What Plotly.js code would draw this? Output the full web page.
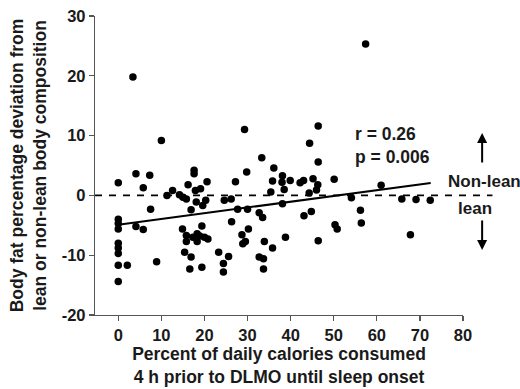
<!DOCTYPE html>
<html>
<head>
<meta charset="utf-8">
<script src="https://cdn.plot.ly/plotly-3.0.1.min.js"></script>
<style>html,body{margin:0;padding:0;background:#fff;}#chart{width:520px;height:389px;}</style>
</head>
<body>
<div id="chart"></div>
<script>
// Scatter data: percent of calories (x) vs body fat deviation (y)
const xVals = [
  0, 4.1, 7.3, 5.8, 7.5, 0, 0, 0, 4.1, 5.8, 0, 0, 0, 0, 2.1, 8.9, 0, 3.4, 10,
  17.6, 17.6, 16.2, 20.6, 17.9, 19.1, 12.6, 11.3, 14.2, 15.0, 15.8, 18.1, 20.3, 19.6, 16.9,
  14.9, 19.4, 15.8, 15.8, 17.3, 18.3, 18.9, 18.3, 20.0, 20.8, 15.4, 16.9, 16.6, 19.4,
  23.3, 25.6, 24.4, 24.4, 24.6, 26.2, 27.2, 29.8, 29.3, 27.7, 30.0, 26.3, 30.2, 28.7, 29.5, 28.9,
  33.3, 36.1, 35.8, 35.4, 32.7, 33.5, 33.9, 32.7, 33.7, 33.7, 35.8,
  38.1, 38.0, 39.9, 38.5, 38.1, 42.2, 43.0, 45.2, 46.4, 46.4, 44.4, 46.3, 46.0, 44.3, 43.1, 44.8, 38.8, 46.4, 50.1,
  50.3, 50.8, 54.1, 56.2, 56.4, 57.4, 61.0, 65.8, 69.1, 72.4, 67.8
];
const yVals = [
  2.1, 3.6, 3.35, 1.3, -2.3, -4.0, -4.7, -5.6, -5.2, -5.7, -8.0, -8.8, -9.7, -11.7, -11.7, -11.1, -14.4, 19.8, 9.2,
  4.2, 3.6, 1.8, 2.3, 0.8, 1.1, 0.8, 0, 0.1, -0.3, -0.6, -1.1, -0.8, -1.7, -2.4,
  -5.6, -5.1, -6.7, -7.7, -7.0, -6.4, -6.8, -7.7, -7.0, -7.3, -9.5, -10.3, -12.3, -12.0,
  -9.5, -10.2, -11.4, -12.8, -0.8, -0.6, 2.3, 3.9, 11.0, -2.3, -2.3, -4.4, -5.6, -6.6, -7.7, -8.1,
  6.3, 4.6, 2.4, 0.55, -2.9, -3.7, -7.7, -10.3, -10.6, -12.3, -8.8,
  3.3, 2.2, 2.5, 1.0, -1.4, 2.1, 2.5, 2.8, 5.6, 11.6, 8.7, 1.8, 0.9, 0.4, -3.4, -2.7, -7.0, -7.6, 2.7,
  -4.9, -5.6, -0.4, -2.5, -4.6, 25.3, 1.7, -0.6, -0.7, -0.8, -6.6
];

// Regression fit parameters and extent
const fitIntercept = -4.9;
const fitSlope = 0.096;
const fitXExtent = [0, 72.5];
const statLabels = ["r = 0.26", "p = 0.006"];
const sideLabels = ["Non-lean", "lean"];

const xTicks = [0, 10, 20, 30, 40, 50, 60, 70, 80];
const yTicks = [-20, -10, 0, 10, 20, 30];
const yTickText = ["-20", "-10", "0", "10", "20", "30"];

const xRange = [-5.4, 80];
const yRange = [-20, 30];

const fitY = fitXExtent.map(v => fitIntercept + fitSlope * v);
const zeroPaperY = (0 - yRange[0]) / (yRange[1] - yRange[0]);

const FONT = 'Arial, "Liberation Sans", Helvetica, sans-serif';
const TXT = '#1a1a1a';

const traces = [
  {
    x: xVals, y: yVals, type: 'scatter', mode: 'markers',
    marker: {color: '#000', size: 7.5},
    cliponaxis: false, hoverinfo: 'skip'
  },
  {
    x: fitXExtent, y: fitY, type: 'scatter', mode: 'lines',
    line: {color: '#000', width: 2}, hoverinfo: 'skip'
  }
];

const layout = {
  width: 520, height: 389,
  margin: {l: 95, r: 57, t: 16, b: 74, pad: 0},
  paper_bgcolor: '#fff', plot_bgcolor: '#fff',
  showlegend: false,
  font: {family: FONT, color: TXT, size: 16, weight: 'bold'},
  xaxis: {
    range: xRange, tickvals: xTicks, showgrid: false, zeroline: false,
    showline: true, linecolor: '#555', linewidth: 1.2,
    ticks: 'outside', ticklen: 5, tickcolor: '#555', tickwidth: 1.2,
    tickfont: {family: FONT, size: 16.5, color: TXT, weight: 'bold'},
    title: {text: 'Percent of daily calories consumed<br>4 h prior to DLMO until sleep onset',
            font: {family: FONT, size: 17.5, color: TXT, weight: 'bold'}, standoff: 2}
  },
  yaxis: {
    range: yRange, tickvals: yTicks, ticktext: yTickText, showgrid: false, zeroline: false,
    showline: true, linecolor: '#555', linewidth: 1.2,
    ticks: 'outside', ticklen: 5, tickcolor: '#555', tickwidth: 1.2,
    tickfont: {family: FONT, size: 16.5, color: TXT, weight: 'bold'},
    title: {text: 'Body fat percentage deviation from<br>lean or non-lean body composition',
            font: {family: FONT, size: 17.5, color: TXT, weight: 'bold'}, standoff: 10}
  },
  shapes: [
    {type: 'line', xref: 'paper', yref: 'paper', x0: 0, x1: 1.08, y0: zeroPaperY, y1: zeroPaperY,
     line: {color: '#000', width: 1.6, dash: '7px,7px'}}
  ],
  annotations: [
    {xref: 'paper', yref: 'paper', x: 0.70, y: 0.607, xanchor: 'left', yanchor: 'middle',
     text: statLabels[0], showarrow: false, font: {family: FONT, size: 17.5, color: TXT, weight: 'bold'}},
    {xref: 'paper', yref: 'paper', x: 0.70, y: 0.527, xanchor: 'left', yanchor: 'middle',
     text: statLabels[1], showarrow: false, font: {family: FONT, size: 17.5, color: TXT, weight: 'bold'}},
    {xref: 'paper', yref: 'paper', x: 0.953, y: 0.445, xanchor: 'left', yanchor: 'middle',
     text: sideLabels[0], showarrow: false, font: {family: FONT, size: 17, color: TXT, weight: 'bold'}},
    {xref: 'paper', yref: 'paper', x: 1.033, y: 0.357, xanchor: 'center', yanchor: 'middle',
     text: sideLabels[1], showarrow: false, font: {family: FONT, size: 17, color: TXT, weight: 'bold'}},
    {xref: 'paper', yref: 'paper', x: 1.052, y: 0.609, text: '', showarrow: true,
     ax: 0, ay: 31, arrowhead: 2, arrowsize: 1, arrowwidth: 2, arrowcolor: '#000', standoff: 0, startstandoff: 0},
    {xref: 'paper', yref: 'paper', x: 1.052, y: 0.217, text: '', showarrow: true,
     ax: 0, ay: -31, arrowhead: 2, arrowsize: 1, arrowwidth: 2, arrowcolor: '#000', standoff: 0, startstandoff: 0}
  ]
};

Plotly.newPlot('chart', traces, layout, {staticPlot: true, displayModeBar: false});
</script>
</body>
</html>
